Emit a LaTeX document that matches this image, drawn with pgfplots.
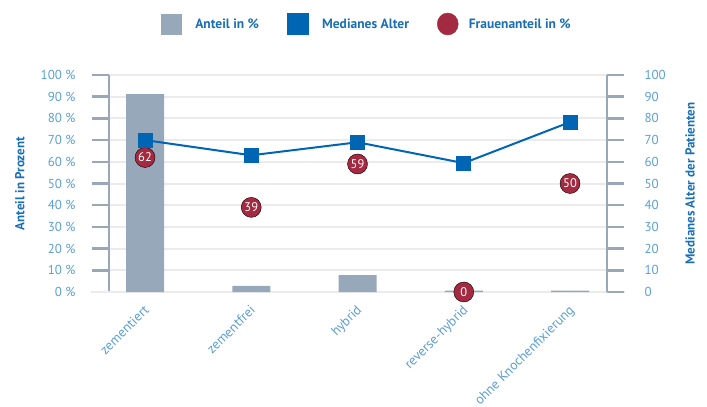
\documentclass[border=0pt]{standalone}
\usepackage{fontspec}
\setmainfont{PT Sans}
\usepackage{pgfplots}
\pgfplotsset{compat=1.18}
\definecolor{barcol}{HTML}{97A8BA}
\definecolor{linecol}{HTML}{0066B3}
\definecolor{redcol}{HTML}{A32A40}
\definecolor{tickcol}{HTML}{5A9FD4}
\definecolor{labcol}{HTML}{1A6FB5}
\definecolor{axcol}{HTML}{98A8B8}
\definecolor{gridcol}{HTML}{EBEBEB}
\begin{document}
\begin{tikzpicture}
\pgfplotsset{
  common/.style={
    scale only axis, width=498pt, height=217pt,
    xmin=-0.339, xmax=4.348, ymin=0, ymax=100,
    ytick={0,10,...,100},
    xtick=\empty,
    axis x line=none,
    every y tick label/.append style={font=\fontsize{13}{15}\selectfont, text=tickcol},
    /pgf/number format/assume math mode=true,
    y axis line style={draw=axcol, line width=2.5pt, -},
    every tick/.style={draw=axcol, line width=2.5pt},
    major tick length=17pt, tick align=outside,
    clip=false,
  }
}
\begin{axis}[common,
  axis y line*=left,
  ymajorgrids, grid style={draw=gridcol, line width=2pt},
  yticklabel={\pgfmathprintnumber{\tick}~\%},
  yticklabel style={xshift=-13pt},
  ylabel={\bfseries Anteil in Prozent},
  ylabel style={at={(axis description cs:-0.179,0.5)}, anchor=center, rotate=0, font=\fontsize{13}{15}\selectfont, text=labcol},
]
\draw[gridcol, line width=2pt] (axis cs:-0.508,0) -- (axis cs:4.517,0);
\addplot[ybar, bar width=38pt, fill=barcol, draw=none, bar shift=0pt] coordinates {(0,91.2) (1,2.8) (2,7.8) (3,0.6) (4,0.6)};
\addplot[only marks, mark=*, mark size=10pt, mark options={fill=redcol, draw=none},
  nodes near coords, point meta=y,
  every node near coord/.append style={anchor=center, text=white, font=\fontsize{12.5}{14}\selectfont}]
  coordinates {(0,62) (1,39) (2,59) (3,0) (4,50)};
\foreach \i/\lab in {0/zementiert,1/zementfrei,2/hybrid,3/reverse-hybrid,4/ohne Knochenfixierung}{
  \edef\tmp{\noexpand\node[xshift=-2pt, yshift=-12pt, rotate=45, anchor=north east, text=tickcol, font=\noexpand\fontsize{13.5}{15}\noexpand\selectfont, inner sep=0pt] at (axis cs:\i,0) {\lab};}
  \tmp
}
\end{axis}
\begin{axis}[common,
  axis y line*=right,
  ylabel={\bfseries Medianes Alter der Patienten},
  ylabel style={at={(axis description cs:1.167,0.5)}, anchor=center, rotate=0, font=\fontsize{13}{15}\selectfont, text=labcol},
  yticklabel style={xshift=17pt},
  legend style={at={(axis description cs:0.518,1.235)}, anchor=center, draw=none, fill=none,
    legend columns=3, font=\bfseries\fontsize{13.5}{15}\selectfont, text=labcol,
    /tikz/every even column/.append style={column sep=26pt},
    /tikz/every odd column/.append style={column sep=0pt}},
  legend cell align=left,
]
\addlegendimage{legend image code/.code={\fill[barcol] (0pt,-10pt) rectangle (20pt,10pt); \path[draw=none] (0pt,0pt) -- (32pt,0pt);}}
\addlegendentry{Anteil in \%}
\addplot[linecol, line width=2pt, mark=square*, mark size=6.5pt, mark options={fill=linecol, draw=none},
  legend image code/.code={\fill[linecol] (0pt,-10pt) rectangle (20pt,10pt); \path[draw=none] (0pt,0pt) -- (32pt,0pt);}]
  coordinates {(0,70) (1,63) (2,69) (3,59.4) (4,78.3)};
\addlegendentry{Medianes Alter}
\addlegendimage{legend image code/.code={\fill[redcol] (10pt,0pt) ellipse (10.5pt and 11pt); \path[draw=none] (0pt,0pt) -- (29pt,0pt);}}
\addlegendentry{Frauenanteil in \%}
\end{axis}
\pgfresetboundingbox
\path (-109pt,-115pt) rectangle (598pt,292pt);
\end{tikzpicture}
\end{document}
